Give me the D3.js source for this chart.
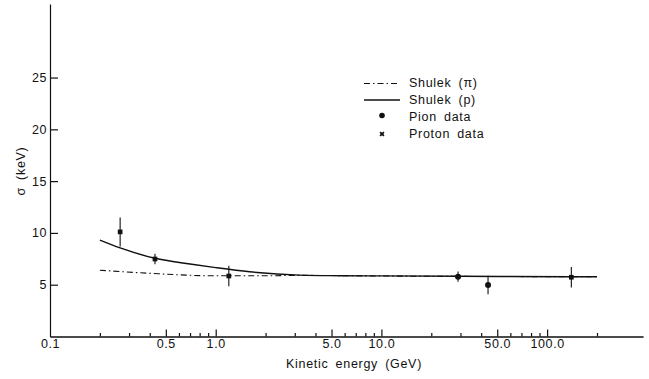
<!DOCTYPE html>
<html>
<head>
<meta charset="utf-8">
<script src="https://cdn.jsdelivr.net/npm/d3@7"></script>
<style>
  html, body { margin: 0; padding: 0; background: #fff; }
  svg { display: block; font-family: "Liberation Sans", Arial, sans-serif; }
  .axis text { font-size: 12.5px; letter-spacing: 0.6px; fill: #111; font-family: "Liberation Sans", Arial, sans-serif; }
  .axis path, .axis line { stroke: #111; stroke-width: 1.2; }
  .lbl { font-size: 12.5px; letter-spacing: 0.7px; word-spacing: 3px; fill: #111; }
</style>
</head>
<body>
<svg id="chart" width="649" height="379"></svg>
<script>
// Shulek curves
const shulekPE = [0.2, 0.265, 0.43, 0.7, 1.0, 1.6, 3.2, 5.6, 10, 30, 140, 200];
const shulekPS = [9.3, 8.55, 7.55, 7.0, 6.65, 6.25, 5.93, 5.87, 5.85, 5.82, 5.77, 5.77];
const shulekPiE = [0.2, 0.4, 1.0, 2.0, 3.2, 10, 200];
const shulekPiS = [6.4, 6.1, 5.86, 5.86, 5.9, 5.84, 5.77];

// measured points
const protonE = [0.265, 0.43, 1.2, 140];
const protonS = [10.1, 7.48, 5.84, 5.72];
const protonErr = [1.4, 0.5, 1.0, 1.0];
const pionE = [29, 44];
const pionS = [5.78, 4.97];
const pionErr = [0.5, 0.9];

// axes
const yTicks = [5, 10, 15, 20, 25];
const xMajorTicks = [0.1, 0.5, 1, 5, 10, 50, 100];
const xTickLabels = ['0.1', '0.5', '1.0', '5.0', '10.0', '50.0', '100.0'];
const xMinorTicks = [0.2, 0.3, 0.4, 0.6, 0.7, 0.8, 0.9, 2, 3, 4, 6, 7, 8, 9, 20, 30, 40, 60, 70, 80, 90, 200];
const legendLabels = ['Shulek (\u03c0)', 'Shulek (p)', 'Pion data', 'Proton data'];

const svg = d3.select('#chart');

const x = d3.scaleLog().domain([0.1, 379]).range([50, 643]);
const y = d3.scaleLinear().domain([0, 32.1]).range([336.5, 4]);

// x axis
const xMinor = d3.axisBottom(x).tickValues(xMinorTicks).tickSize(-3.5).tickSizeOuter(0).tickFormat('');
svg.append('g').attr('class', 'axis').attr('transform', `translate(0,${y(0)})`).call(xMinor);

const xMajor = d3.axisBottom(x).tickValues(xMajorTicks).tickSize(-7).tickSizeOuter(0).tickPadding(3)
    .tickFormat((d, i) => xTickLabels[i]);
const gx = svg.append('g').attr('class', 'axis').attr('transform', `translate(0,${y(0)})`).call(xMajor);
gx.selectAll('.tick').filter(d => d === 0.1).select('line').remove();

// y axis
const yAxis = d3.axisLeft(y).tickValues(yTicks).tickSize(-8).tickSizeOuter(0).tickPadding(3);
svg.append('g').attr('class', 'axis').attr('transform', `translate(${x(0.1)},0)`).call(yAxis);

svg.selectAll('.axis .domain').attr('fill', 'none');

// axis labels
svg.append('text').attr('class', 'lbl')
    .attr('x', 354).attr('y', 368).attr('text-anchor', 'middle')
    .text('Kinetic energy (GeV)');
svg.append('text').attr('class', 'lbl')
    .attr('transform', 'translate(25,171) rotate(-90)')
    .attr('text-anchor', 'middle')
    .text('\u03c3 (keV)');

// curves
const line = d3.line()
    .x(d => x(d[0]))
    .y(d => y(d[1]))
    .curve(d3.curveMonotoneX);

svg.append('path')
    .datum(shulekPiE.map((e, i) => [e, shulekPiS[i]]))
    .attr('d', line)
    .attr('fill', 'none')
    .attr('stroke', '#111')
    .attr('stroke-width', 1.1)
    .attr('stroke-dasharray', '6,3,1.5,3');

svg.append('path')
    .datum(shulekPE.map((e, i) => [e, shulekPS[i]]))
    .attr('d', line)
    .attr('fill', 'none')
    .attr('stroke', '#111')
    .attr('stroke-width', 1.4);

// error bars
const errData = protonE.map((e, i) => ({ e, s: protonS[i], err: protonErr[i] }))
    .concat(pionE.map((e, i) => ({ e, s: pionS[i], err: pionErr[i] })));

svg.append('g').selectAll('line')
    .data(errData)
    .join('line')
    .attr('x1', d => x(d.e))
    .attr('x2', d => x(d.e))
    .attr('y1', d => y(d.s + d.err))
    .attr('y2', d => y(d.s - d.err))
    .attr('stroke', '#111')
    .attr('stroke-width', 1.1);

// markers
svg.append('g').selectAll('path')
    .data(protonE.map((e, i) => [e, protonS[i]]))
    .join('path')
    .attr('transform', d => `translate(${x(d[0])},${y(d[1])})`)
    .attr('d', d3.symbol(d3.symbolSquare, 22))
    .attr('fill', '#111');

svg.append('g').selectAll('circle')
    .data(pionE.map((e, i) => [e, pionS[i]]))
    .join('circle')
    .attr('cx', d => x(d[0]))
    .attr('cy', d => y(d[1]))
    .attr('r', 3)
    .attr('fill', '#111');

// legend
const legend = svg.append('g').attr('transform', 'translate(364,0)');
const rowY = [86.5, 103.5, 120.5, 137.5];

legend.append('line').attr('x1', 0).attr('x2', 36).attr('y1', rowY[0] - 3).attr('y2', rowY[0] - 3)
    .attr('stroke', '#111').attr('stroke-width', 1.1).attr('stroke-dasharray', '6,3,1.5,3');
legend.append('line').attr('x1', 0).attr('x2', 36).attr('y1', rowY[1] - 3.5).attr('y2', rowY[1] - 3.5)
    .attr('stroke', '#111').attr('stroke-width', 1.4);
legend.append('circle').attr('cx', 18).attr('cy', rowY[2] - 5).attr('r', 2.8).attr('fill', '#111');
legend.append('path')
    .attr('transform', `translate(18,${rowY[3] - 3.5}) rotate(45)`)
    .attr('d', d3.symbol(d3.symbolCross, 16))
    .attr('fill', '#111');

legend.selectAll('text.lbl')
    .data(legendLabels)
    .join('text')
    .attr('class', 'lbl')
    .attr('x', 45)
    .attr('y', (d, i) => rowY[i])
    .text(d => d);
</script>
</body>
</html>
